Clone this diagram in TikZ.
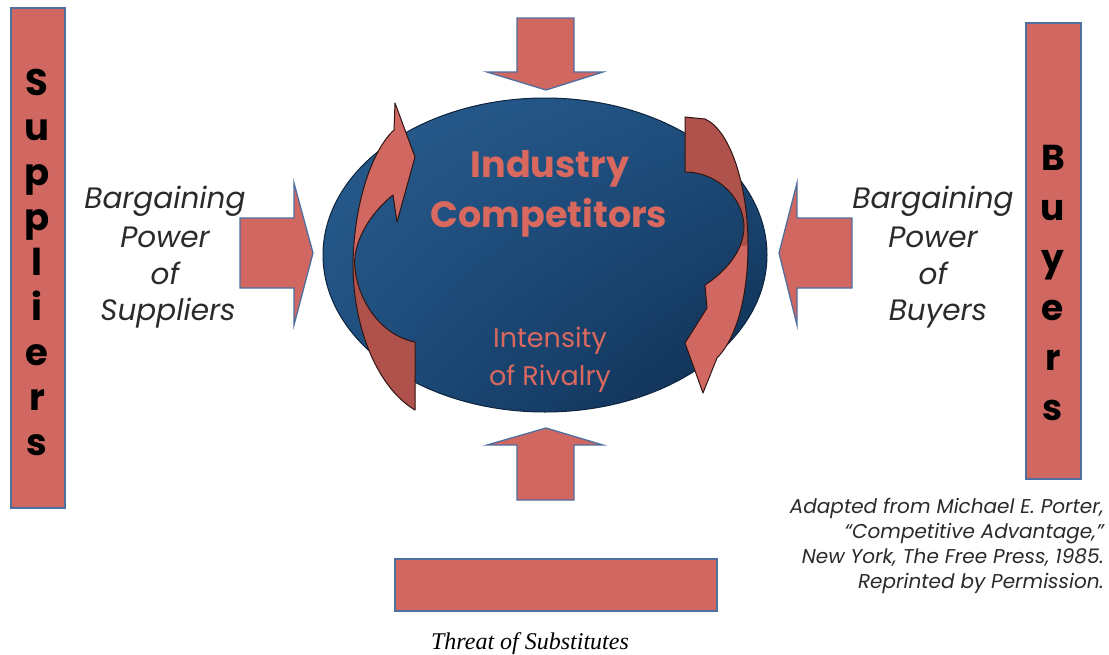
\documentclass[tikz,border=0pt]{standalone}
\usepackage{fontspec}
\usetikzlibrary{shadings}
\newfontfamily\gothic{Poppins}
\newfontfamily\timesf{Liberation Serif}
\definecolor{salmon}{HTML}{D06760}
\definecolor{salmondark}{HTML}{B0524C}
\definecolor{edgeblue}{HTML}{4F6F9F}
\definecolor{txtsalmon}{HTML}{D9695F}
\definecolor{inkgray}{HTML}{2A2A2A}
\definecolor{ellUL}{RGB}{40,92,142}
\definecolor{ellUR}{RGB}{30,78,126}
\definecolor{ellLL}{RGB}{30,78,126}
\definecolor{ellLR}{RGB}{14,44,78}
\definecolor{ellEdge}{RGB}{14,36,62}
\tikzset{
  block/.style={fill=salmon, draw=edgeblue, line width=1.3pt},
  bigarrow/.style={fill=salmon, draw=edgeblue, line width=1.3pt, line join=miter},
  curvearrow/.style={draw=black!75!salmondark, line width=1pt, line join=round},
  letter/.style={anchor=base, inner sep=0pt, font=\gothic\bfseries\fontsize{37}{37}\selectfont},
  bletter/.style={anchor=base, inner sep=0pt, font=\gothic\bfseries\fontsize{36}{36}\selectfont},
  sidetext/.style={anchor=base, inner sep=0pt, text=inkgray, font=\gothic\itshape\fontsize{29.5}{29.5}\selectfont},
  credit/.style={anchor=base east, inner sep=0pt, text=inkgray, font=\gothic\itshape\fontsize{20}{20}\selectfont},
  titletext/.style={anchor=base, inner sep=0pt, text=txtsalmon, font=\gothic\bfseries\fontsize{36.5}{36.5}\selectfont},
  subtext/.style={anchor=base, inner sep=0pt, text=txtsalmon, font=\gothic\fontsize{27}{27}\selectfont}
}
\begin{document}
\begin{tikzpicture}[x=1pt,y=-1pt]
\useasboundingbox (0,0) rectangle (1109,654);
% side boxes
\draw[block] (11,8) rectangle (65,508);
\draw[block] (1026,23) rectangle (1081,479);
\draw[block] (395,559) rectangle (717,611);
% letters
\foreach \ch/\yy [count=\i] in {S/95,u/140,p/185,p/230,l/275,i/320,e/365,r/410,s/455}
  \node[letter] (sup\i) at (37,\yy) {\ch};
\foreach \ch/\yy [count=\i] in {B/170,u/220,y/270,e/320,r/370,s/420}
  \node[bletter] (buy\i) at (1053,\yy) {\ch};
% straight arrows
\draw[bigarrow] (517,18) -- (574,18) -- (574,72) -- (603,72) -- (546,90) -- (487,72) -- (517,72) -- cycle;
\draw[bigarrow] (240,218) -- (294,218) -- (294,183) -- (313,253) -- (294,325) -- (294,288) -- (240,288) -- cycle;
\draw[bigarrow] (852,218) -- (797,218) -- (797,183) -- (779,253) -- (797,325) -- (797,288) -- (852,288) -- cycle;
\draw[bigarrow] (517,500) -- (574,500) -- (574,445) -- (603,445) -- (546,428) -- (487,445) -- (517,445) -- cycle;
% ellipse
\shade[upper left=ellUL, upper right=ellUR, lower left=ellLL, lower right=ellLR]
  (545,255) ellipse [x radius=222, y radius=157];
\draw[line width=1pt, draw=ellEdge] (545,255) ellipse [x radius=222, y radius=157];
% left curved arrow
\def\leftarc{(395,103) -- (415,157) -- (397,222) -- (393,195)
 .. controls (368,215) and (352,245) .. (355,268)
 .. controls (358,300) and (380,335) .. (415,342)
 -- (415,410)
 .. controls (378,388) and (354,330) .. (353,268)
 .. controls (353,205) and (372,150) .. (394,130)
 -- cycle}
\fill[salmon] \leftarc;
\begin{scope}
\clip (300,268) rectangle (450,420);
\fill[salmondark] \leftarc;
\end{scope}
\draw[curvearrow] \leftarc;
% right curved arrow
\def\rightarc{(685,117) -- (705,119)
 .. controls (730,130) and (748,185) .. (748,245)
 .. controls (748,300) and (735,340) .. (717,358)
 -- (703,393) -- (685,343) -- (707,308) -- (705,285)
 .. controls (725,272) and (745,250) .. (744,225)
 .. controls (742,195) and (715,172) .. (685,172)
 -- cycle}
\fill[salmon] \rightarc;
\begin{scope}
\clip (650,100) rectangle (780,245);
\fill[salmondark] \rightarc;
\end{scope}
\draw[curvearrow] \rightarc;
% center text
\node[titletext] (ind) at (550,177) {Industry};
\node[titletext] (comp) at (549,227) {Competitors};
\node[subtext] (int) at (550,347) {Intensity};
\node[subtext] (riv) at (550,385) {of Rivalry};
% side text
\node[sidetext] (s1) at (165,208) {Bargaining};
\node[sidetext] (s2) at (165,247) {Power};
\node[sidetext] (s3) at (165,284) {of};
\node[sidetext] (s4) at (168,320) {Suppliers};
\node[sidetext] (b1) at (933,208) {Bargaining};
\node[sidetext] (b2) at (933,247) {Power};
\node[sidetext] (b3) at (933,284) {of};
\node[sidetext] (b4) at (938,320) {Buyers};
% credit
\node[credit] (c1) at (1104,513) {Adapted from Michael E. Porter,};
\node[credit] (c2) at (1104,538) {“Competitive Advantage,”};
\node[credit] (c3) at (1104,563) {New York, The Free Press, 1985.};
\node[credit] (c4) at (1104,588) {Reprinted by Permission.};
% bottom label
\node[anchor=base, inner sep=0pt, font=\timesf\itshape\fontsize{24}{24}\selectfont] (threat) at (530,649) {Threat of Substitutes};
\end{tikzpicture}
\end{document}
